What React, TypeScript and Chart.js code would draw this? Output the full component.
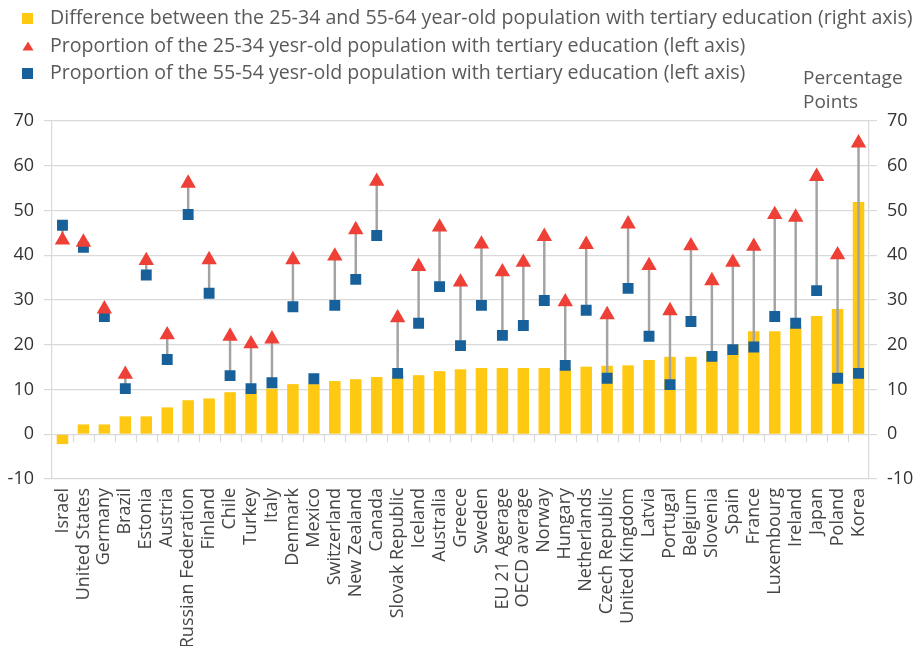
import React, { useEffect, useRef } from "react";
import { Chart, registerables } from "chart.js";

Chart.register(...registerables);

// ---------- data ----------
const categories = [
  "Israel", "United States", "Germany", "Brazil", "Estonia", "Austria",
  "Russian Federation", "Finland", "Chile", "Turkey", "Italy", "Denmark",
  "Mexico", "Switzerland", "New Zealand", "Canada", "Slovak Republic",
  "Iceland", "Australia", "Greece", "Sweden", "EU 21 Agerage", "OECD average",
  "Norway", "Hungary", "Netherlands", "Czech Republic", "United Kingdom",
  "Latvia", "Portugal", "Belgium", "Slovenia", "Spain", "France",
  "Luxembourg", "Ireland", "Japan", "Poland", "Korea",
];

// Difference between 25-34 and 55-64 (percentage points, right axis)
const differencePP = [
  -2.2, 2.2, 2.2, 4.0, 4.0, 6.0, 7.6, 8.0, 9.4, 10.0, 10.2, 11.2, 11.2,
  11.9, 12.3, 12.8, 13.2, 13.2, 14.1, 14.5, 14.8, 14.8, 14.8, 14.8, 14.9,
  15.1, 15.3, 15.4, 16.6, 17.3, 17.3, 18.4, 20.0, 23.0, 23.0, 24.2, 26.4,
  28.0, 51.9,
];

// Proportion of 25-34 year-olds with tertiary education (left axis)
const share2534 = [
  43.4, 42.9, 28.0, 13.4, 38.8, 22.2, 56.1, 39.0, 21.9, 20.2, 21.3, 39.0,
  null, 39.8, 45.7, 56.5, 26.0, 37.5, 46.3, 34.0, 42.5, 36.3, 38.4, 44.2,
  29.6, 42.4, 26.7, 47.0, 37.7, 27.6, 42.1, 34.3, 38.4, 42.0, 49.1, 48.5,
  57.6, 40.1, 65.1,
];

// Proportion of 55-64 year-olds with tertiary education (left axis)
const share5564 = [
  46.7, 41.8, 26.3, 10.2, 35.6, 16.7, 49.1, 31.5, 13.1, 10.2, 11.5, 28.5,
  12.4, 28.8, 34.6, 44.4, 13.6, 24.8, 33.0, 19.8, 28.8, 22.1, 24.3, 29.9,
  15.4, 27.7, 12.5, 32.6, 21.9, 11.1, 25.2, 17.4, 18.9, 19.5, 26.3, 24.8,
  32.1, 12.5, 13.6,
];

const axisTicks = [-10, 0, 10, 20, 30, 40, 50, 60, 70];

const legendLabels = [
  "Difference between the 25-34 and 55-64 year-old population with tertiary education (right axis)",
  "Proportion of the 25-34 yesr-old population with tertiary education (left axis)",
  "Proportion of the 55-54 yesr-old population with tertiary education (left axis)",
];

// ---------- styles ----------
const FONT = "'Open Sans', 'Noto Sans', sans-serif";
const YELLOW = "#FFC812";
const RED = "#EE4036";
const BLUE = "#17609A";
const STEM = "#a3a3a3";
const GRID = "#d9d9d9";
const W = 907;
const H = 638;

const zeroTickPlugin = {
  id: "zeroTicks",
  beforeDatasetsDraw(chart: any) {
    const { ctx } = chart;
    const x = chart.scales.x;
    const y = chart.scales.y;
    const py = y.getPixelForValue(0);
    ctx.save();
    ctx.strokeStyle = GRID;
    ctx.lineWidth = 1.2;
    ctx.beginPath();
    for (let i = 1; i < categories.length; i++) {
      const px = Math.round(x.getPixelForValue(i - 0.5)) + 0.5;
      ctx.moveTo(px, py);
      ctx.lineTo(px, py + 8);
    }
    ctx.stroke();
    ctx.restore();
  },
};

function setTicks(scale: any) {
  scale.ticks = axisTicks.map((v) => ({ value: v }));
}

export default function App() {
  const ref = useRef<HTMLCanvasElement>(null);

  useEffect(() => {
    const stems = categories.map((_, i) =>
      share2534[i] == null || share5564[i] == null
        ? null
        : [share5564[i] as number, share2534[i] as number]
    );
    const chart = new Chart(ref.current as HTMLCanvasElement, {
      type: "bar",
      data: {
        labels: categories,
        datasets: [
          {
            type: "line",
            label: legendLabels[1],
            data: share2534,
            yAxisID: "y",
            showLine: false,
            pointStyle: "triangle",
            pointRadius: 8.9,
            pointHoverRadius: 8.9,
            pointBackgroundColor: RED,
            pointBorderColor: RED,
            pointBorderWidth: 0,
            order: 0,
          } as any,
          {
            type: "line",
            label: legendLabels[2],
            data: share5564,
            yAxisID: "y",
            showLine: false,
            pointStyle: "rect",
            pointRadius: 7.7,
            pointHoverRadius: 7.7,
            pointBackgroundColor: BLUE,
            pointBorderColor: BLUE,
            pointBorderWidth: 0,
            order: 1,
          } as any,
          {
            type: "bar",
            label: "stems",
            data: stems as any,
            yAxisID: "y",
            backgroundColor: STEM,
            barThickness: 1.8,
            grouped: false,
            order: 2,
          } as any,
          {
            type: "bar",
            label: legendLabels[0],
            data: differencePP,
            yAxisID: "y1",
            backgroundColor: YELLOW,
            barPercentage: 0.55,
            categoryPercentage: 1,
            grouped: false,
            order: 3,
          } as any,
        ],
      },
      options: {
        responsive: false,
        animation: false,
        devicePixelRatio: 1,
        layout: { padding: { top: 113, left: 0, right: 0, bottom: 0 } },
        plugins: {
          legend: { display: false },
          tooltip: { enabled: false },
        },
        scales: {
          x: {
            offset: true,
            grid: { display: false, drawTicks: false },
            border: { display: false },
            ticks: {
              autoSkip: false,
              maxRotation: 90,
              minRotation: 90,
              padding: 9,
              color: "#454545",
              font: { family: FONT, size: 18 },
            },
            afterFit: (s: any) => {
              s.height = H - 471;
            },
          },
          y: {
            position: "left",
            min: -10,
            max: 70,
            afterBuildTicks: setTicks,
            grid: { color: GRID, lineWidth: 1.2, tickLength: 8, drawTicks: true },
            border: { display: true, color: GRID, width: 1.2 },
            ticks: {
              padding: 10,
              color: "#333333",
              font: { family: FONT, size: 18 },
            },
            afterFit: (s: any) => {
              s.width = 44;
            },
          },
          y1: {
            position: "right",
            min: -10,
            max: 70,
            afterBuildTicks: setTicks,
            grid: {
              color: GRID,
              lineWidth: 1.2,
              tickLength: 8,
              drawTicks: true,
              drawOnChartArea: false,
            },
            border: { display: true, color: GRID, width: 1.2 },
            ticks: {
              padding: 10,
              color: "#333333",
              font: { family: FONT, size: 18 },
            },
            afterFit: (s: any) => {
              s.width = W - 861;
            },
          },
        },
      } as any,
      plugins: [zeroTickPlugin],
    });
    return () => chart.destroy();
  }, []);

  const rowTops = [-5, 22.5, 50];
  const markers = [
    <span key="m0" style={{ position: "absolute", left: 14, top: 9.5, width: 11, height: 11, background: YELLOW }} />,
    <svg key="m1" width="12" height="10" style={{ position: "absolute", left: 13.5, top: 10 }}>
      <polygon points="6,0.5 11.5,9.5 0.5,9.5" fill={RED} />
    </svg>,
    <span key="m2" style={{ position: "absolute", left: 14, top: 9.5, width: 11, height: 11, background: BLUE }} />,
  ];

  return (
    <div style={{ position: "relative", width: W, height: H, fontFamily: FONT }}>
      <canvas
        ref={ref}
        width={W}
        height={H}
        style={{ position: "absolute", left: 0, top: 0, width: W, height: H }}
      />
      {legendLabels.map((t, i) => (
        <div key={t} style={{ position: "absolute", left: 0, top: rowTops[i], height: 28, width: 907 }}>
          {markers[i]}
          <span
            style={{
              position: "absolute",
              left: 42,
              top: 0,
              fontSize: 19.6,
              lineHeight: "28px",
              color: "#5a5a5a",
              whiteSpace: "nowrap",
            }}
          >
            {t}
          </span>
        </div>
      ))}
      <div
        style={{
          position: "absolute",
          left: 795,
          top: 57,
          fontSize: 19,
          lineHeight: "24px",
          color: "#5a5a5a",
          whiteSpace: "nowrap",
        }}
      >
        Percentage
        <br />
        Points
      </div>
    </div>
  );
}
